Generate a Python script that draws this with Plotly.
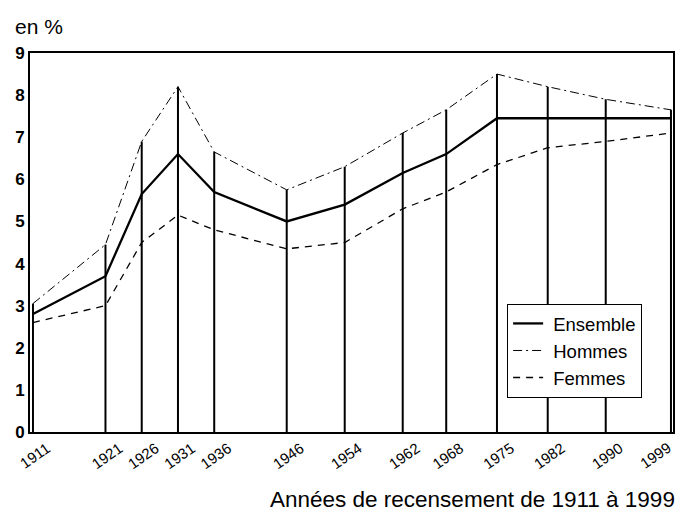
import plotly.graph_objects as go

years = [1911, 1921, 1926, 1931, 1936, 1946, 1954, 1962, 1968, 1975, 1982, 1990, 1999]
ensemble = [2.8, 3.7, 5.65, 6.6, 5.7, 5.0, 5.4, 6.15, 6.6, 7.45, 7.45, 7.45, 7.45]
hommes = [3.05, 4.45, 6.9, 8.2, 6.65, 5.75, 6.3, 7.1, 7.65, 8.5, 8.2, 7.9, 7.65]
femmes = [2.6, 3.0, 4.5, 5.15, 4.8, 4.35, 4.5, 5.3, 5.7, 6.35, 6.75, 6.9, 7.1]
y_ticks = [0, 1, 2, 3, 4, 5, 6, 7, 8, 9]

FONT = "Arial, Liberation Sans, sans-serif"

# drop lines from 0 up to the highest series at each census year
vx, vy = [], []
for yr, h in zip(years, hommes):
    vx += [yr, yr, None]
    vy += [0, h, None]

# the last year label sits clamped at the right edge, drawn separately
last_year = years[-1]
tick_text = [str(y) for y in years[:-1]] + [""]

fig = go.Figure()
fig.add_trace(go.Scatter(x=vx, y=vy, mode="lines", line=dict(color="black", width=2),
                         showlegend=False, hoverinfo="skip"))
fig.add_trace(go.Scatter(x=years, y=ensemble, mode="lines", name="\u00a0Ensemble",
                         legendgroup="a", line=dict(color="black", width=2.3)))
fig.add_trace(go.Scatter(x=years, y=hommes, mode="lines", name="\u00a0Hommes",
                         legendgroup="b", line=dict(color="black", width=1, dash="9px,4px,2px,4px")))
fig.add_trace(go.Scatter(x=years, y=femmes, mode="lines", name="\u00a0Femmes",
                         legendgroup="c", line=dict(color="black", width=1.3, dash="7px,6px")))

fig.update_layout(
    width=667, height=504,
    margin=dict(l=22, r=2, t=45, b=80),
    paper_bgcolor="white", plot_bgcolor="white",
    font=dict(family=FONT, color="black"),
    showlegend=True,
    legend=dict(x=0.742, y=0.338, xanchor="left", yanchor="top",
                bgcolor="white", bordercolor="black", borderwidth=1,
                font=dict(size=18.5, family=FONT), traceorder="grouped",
                tracegroupgap=0, itemwidth=30),
    xaxis=dict(range=[1910.59, 1999.28], tickmode="array", tickvals=years,
               ticktext=tick_text, tickangle=-35,
               tickfont=dict(size=15, family=FONT), ticklabelshift=14,
               ticklabeloverflow="allow",
               showline=True, linecolor="black", linewidth=2, mirror=True,
               showgrid=False, zeroline=False, ticks="", automargin=False),
    yaxis=dict(range=[0, 9], tickmode="array", tickvals=y_ticks,
               ticktext=[str(v) for v in y_ticks],
               tickfont=dict(size=17, family=FONT, weight="bold"),
               showline=True, linecolor="black", linewidth=2, mirror=True,
               showgrid=False, zeroline=False, ticks="", automargin=False),
    annotations=[
        dict(text="en %", xref="paper", yref="paper", x=-0.027, y=1.071,
             xanchor="left", yanchor="middle", showarrow=False,
             font=dict(size=21, family=FONT)),
        dict(text="Années de recensement de 1911 à 1999", xref="paper", yref="paper",
             x=1.0, y=-0.179, xanchor="right", yanchor="middle", showarrow=False,
             xshift=4, font=dict(size=22.5, family=FONT)),
        dict(text=str(last_year), xref="x", yref="paper", x=last_year, y=0,
             xanchor="right", yanchor="top", showarrow=False, textangle=-35,
             xshift=4, yshift=-6, borderpad=0,
             font=dict(size=15, family=FONT)),
    ],
)

fig.write_html("out.html")
